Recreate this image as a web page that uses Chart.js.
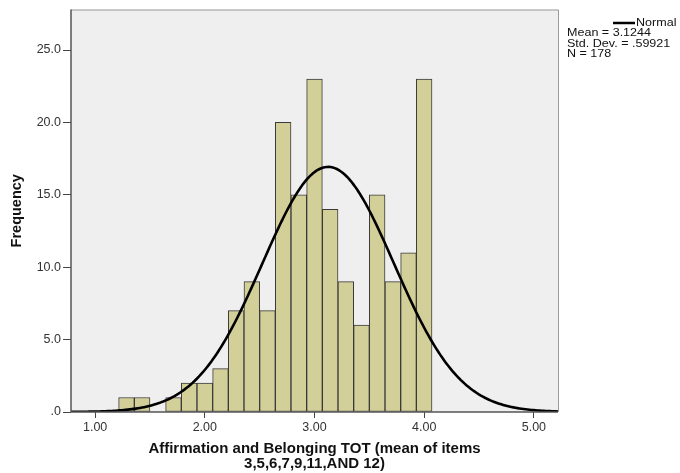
<!DOCTYPE html>
<html>
<head>
<meta charset="utf-8">
<script src="https://cdn.jsdelivr.net/npm/chart.js@4/dist/chart.umd.min.js"></script>
<style>
  html, body { margin: 0; padding: 0; background: #ffffff; }
  #wrap { width: 680px; height: 473px; position: relative; }
</style>
</head>
<body>
<div id="wrap"><canvas id="hist"></canvas></div>
<script>
// histogram bins: item means come in steps of 1/7
const binMids = [9/7, 10/7, 11/7, 12/7, 13/7, 14/7, 15/7, 16/7, 17/7, 18/7, 19/7,
                 20/7, 21/7, 22/7, 23/7, 24/7, 25/7, 26/7, 27/7, 28/7];
const counts  = [1, 1, 0, 1, 2, 2, 3, 7, 9, 7, 20,
                 15, 23, 14, 9, 6, 15, 9, 11, 23];
const BIN_WIDTH = 1 / 7;

// summary stats shown in the legend, also used for the normal overlay
const MEAN = 3.1244;
const SD = 0.59921;
const N = 178;

const xTicks = [1, 2, 3, 4, 5];
const yTicks = [0, 5, 10, 15, 20, 25];
const X_MIN = 0.78, X_MAX = 5.22, Y_MAX = 27.8;

const FONT = "'Liberation Sans', Arial, sans-serif";

function normalCount(x) {
  const z = (x - MEAN) / SD;
  return N * BIN_WIDTH * Math.exp(-0.5 * z * z) / (SD * Math.sqrt(2 * Math.PI));
}

const curve = [];
for (let i = 0; i <= 240; i++) {
  const x = X_MIN + (X_MAX - X_MIN) * i / 240;
  curve.push({ x, y: normalCount(x) });
}

// legend text is a little wide and short, so stretch it sideways
function wideText(ctx, str, x, y) {
  ctx.save();
  ctx.translate(x, y);
  ctx.scale(1.14, 1);
  ctx.fillText(str, 0, 0);
  ctx.restore();
}

const frame = {
  id: "frame",
  beforeDatasetsDraw(chart) {
    const { ctx, chartArea: a } = chart;
    ctx.save();
    ctx.fillStyle = "#efefef";
    ctx.fillRect(a.left, a.top, a.right - a.left, a.bottom - a.top);
    ctx.restore();
  },
  afterDraw(chart) {
    const { ctx, chartArea: a } = chart;
    ctx.save();
    // light top/right edges, darker axes
    ctx.strokeStyle = "#9a9a9a";
    ctx.lineWidth = 1;
    ctx.beginPath();
    ctx.moveTo(a.left, a.top + 0.5);
    ctx.lineTo(a.right + 0.5, a.top + 0.5);
    ctx.lineTo(a.right + 0.5, a.bottom);
    ctx.stroke();

    ctx.strokeStyle = "#555555";
    ctx.lineWidth = 1.5;
    ctx.beginPath();
    ctx.moveTo(a.left, a.top);
    ctx.lineTo(a.left, a.bottom);
    ctx.lineTo(a.right, a.bottom);
    ctx.stroke();

    // legend block on the right
    ctx.strokeStyle = "#000000";
    ctx.lineWidth = 2.5;
    ctx.beginPath();
    ctx.moveTo(613, 23);
    ctx.lineTo(635, 23);
    ctx.stroke();

    ctx.fillStyle = "#111111";
    ctx.font = "11px " + FONT;
    ctx.textBaseline = "middle";
    ctx.textAlign = "left";
    wideText(ctx, "Normal", 636, 23);
    wideText(ctx, "Mean = " + MEAN.toFixed(4), 567, 33);
    wideText(ctx, "Std. Dev. = " + SD.toFixed(5).replace(/^0/, ""), 567, 43.5);
    wideText(ctx, "N = " + N, 567, 53.5);
    ctx.restore();
  }
};

new Chart(document.getElementById("hist"), {
  data: {
    datasets: [
      {
        type: "line",
        data: curve,
        borderColor: "#000000",
        borderWidth: 2.6,
        pointRadius: 0,
        tension: 0,
        order: 0
      },
      {
        type: "bar",
        data: binMids.map((m, i) => ({ x: m, y: counts[i] })),
        backgroundColor: "#d3cf98",
        borderColor: "#3a3a3a",
        borderWidth: 1,
        borderSkipped: false,
        barPercentage: 1,
        categoryPercentage: 1,
        order: 1
      }
    ]
  },
  options: {
    responsive: true,
    maintainAspectRatio: false,
    animation: false,
    layout: { padding: { top: 8, right: 122, left: 0, bottom: 0 } },
    plugins: {
      legend: { display: false },
      tooltip: { enabled: false }
    },
    scales: {
      x: {
        type: "linear",
        offset: false,
        min: X_MIN,
        max: X_MAX,
        afterBuildTicks: (s) => { s.ticks = xTicks.map(v => ({ value: v })); },
        afterFit: (s) => { s.height = 61; },
        grid: { offset: false, drawOnChartArea: false, drawTicks: true, tickLength: 6, color: "#444444" },
        border: { display: false },
        ticks: {
          padding: 2,
          color: "#333333",
          font: { family: FONT, size: 12.5 },
          maxRotation: 0,
          callback: (v) => Number(v).toFixed(2)
        },
        title: {
          display: true,
          text: ["Affirmation and Belonging TOT (mean of items", "3,5,6,7,9,11,AND 12)"],
          color: "#111111",
          font: { family: FONT, size: 15, weight: "bold", lineHeight: 1.0 },
          padding: { top: 0, bottom: 1.5 }
        }
      },
      y: {
        type: "linear",
        min: 0,
        max: Y_MAX,
        afterBuildTicks: (s) => { s.ticks = yTicks.map(v => ({ value: v })); },
        afterFit: (s) => { s.width = 71; },
        grid: { drawOnChartArea: false, drawTicks: true, tickLength: 8, color: "#444444" },
        border: { display: false },
        ticks: {
          padding: 2,
          color: "#333333",
          font: { family: FONT, size: 12.5 },
          callback: (v) => v === 0 ? ".0" : Number(v).toFixed(1)
        },
        title: {
          display: true,
          text: "Frequency",
          color: "#111111",
          font: { family: FONT, size: 14.5, weight: "bold", lineHeight: 1.0 },
          padding: { top: 9.5, bottom: 0 }
        }
      }
    }
  },
  plugins: [frame]
});
</script>
</body>
</html>
